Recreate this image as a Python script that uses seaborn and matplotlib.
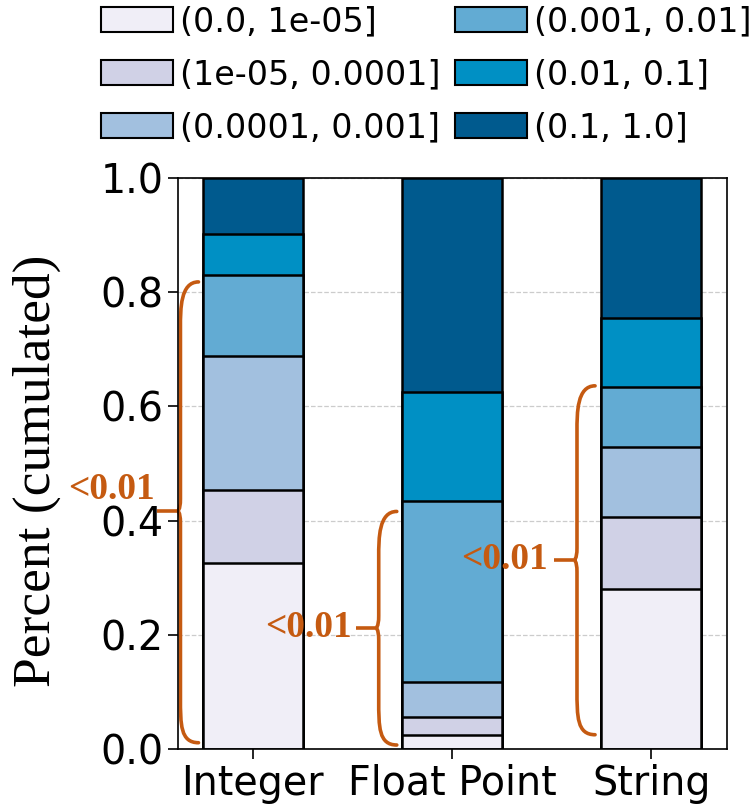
import matplotlib
matplotlib.use("Agg")
import matplotlib.pyplot as plt
import seaborn as sns
import pandas as pd
import numpy as np
from matplotlib.path import Path
from matplotlib.patches import PathPatch, Patch

sns.set_style("ticks")
plt.rcParams.update({"text.color": "black", "axes.labelcolor": "black",
                     "xtick.color": "black", "ytick.color": "black",
                     "axes.edgecolor": "black"})

categories = ["Integer", "Float Point", "String"]
bins = ["(0.0, 1e-05]", "(1e-05, 0.0001]", "(0.0001, 0.001]",
        "(0.001, 0.01]", "(0.01, 0.1]", "(0.1, 1.0]"]
# cumulative fractions (top of each bin), per category
integer_cum = [0.326, 0.454, 0.688, 0.830, 0.902, 1.0]
float_cum = [0.025, 0.056, 0.117, 0.434, 0.625, 1.0]
string_cum = [0.280, 0.406, 0.529, 0.634, 0.755, 1.0]
colors = ["#f0eef7", "#d0d1e6", "#a2c0df", "#62abd3", "#0090c4", "#005a8e"]

# brace annotations: (category index, y bottom, y top, y tip)
brace_spans = [(0, 0.011, 0.818, 0.417), (1, 0.007, 0.416, 0.212), (2, 0.025, 0.636, 0.331)]
brace_label = "<0.01"

rows = []
for cat, cum in zip(categories, [integer_cum, float_cum, string_cum]):
    for b, v in zip(bins, cum):
        rows.append({"category": cat, "bin": b, "cum": v})
df = pd.DataFrame(rows)

fig = plt.figure(figsize=(7.56, 8.06), dpi=100)
ax = fig.add_axes([178/756, 1-749/806, (727-178)/756, (749-178)/806])

for b, c in reversed(list(zip(bins, colors))):
    sub = df[df["bin"] == b]
    sns.barplot(data=sub, x="category", y="cum", order=categories, color=c,
                edgecolor="black", linewidth=1.8, width=0.5, ax=ax,
                saturation=1, errorbar=None)

ax.set_xlim(-0.375, 2.38)
ax.set_ylim(0, 1.0)
ax.set_yticks([0, 0.2, 0.4, 0.6, 0.8, 1.0])
ax.set_yticklabels(["0.0", "0.2", "0.4", "0.6", "0.8", "1.0"])
ax.tick_params(axis="both", labelsize=28.5, length=7, width=1.2, color="black",
               labelcolor="black")
ax.set_xlabel("")
ax.set_ylabel("Percent (cumulated)", family="Liberation Serif", fontsize=38.5)
ax.yaxis.set_label_coords(-0.213, 0.487)
ax.yaxis.grid(True, linestyle="--", color="#cccccc", linewidth=0.9)
ax.set_axisbelow(True)
for s in ax.spines.values():
    s.set_visible(True)
    s.set_color("black")
    s.set_linewidth(1.2)

orange = "#c55a11"
px = 1/198.5
py = 1/571.0

def brace(ax, x_tip, y0, y1, ym):
    x_body = x_tip + 3*px
    x_end = x_tip + 21*px
    r = 45*py
    m = 12*py
    verts = [(x_end, y1),
             (x_body, y1), (x_body, y1 - r*0.6), (x_body, y1 - r),
             (x_body, ym + m),
             (x_body, ym), (x_tip, ym), (x_tip, ym),
             (x_tip, ym), (x_body, ym), (x_body, ym - m),
             (x_body, y0 + r),
             (x_body, y0 + r*0.4), (x_body, y0), (x_end, y0)]
    codes = [Path.MOVETO,
             Path.CURVE4, Path.CURVE4, Path.CURVE4,
             Path.LINETO,
             Path.CURVE4, Path.CURVE4, Path.CURVE4,
             Path.CURVE4, Path.CURVE4, Path.CURVE4,
             Path.LINETO,
             Path.CURVE4, Path.CURVE4, Path.CURVE4]
    ax.add_patch(PathPatch(Path(verts, codes), fill=False, edgecolor=orange,
                           linewidth=2.6, clip_on=False, capstyle="round"))
    ax.plot([x_tip - 20*px, x_tip], [ym, ym], color=orange, linewidth=2.6,
            clip_on=False, solid_capstyle="butt")

tips = {0: -75*px, 1: 1 - 76*px, 2: 2 - 77*px}
gaps = {0: 22*px, 1: 24*px, 2: 26*px}
for idx, y0, y1, ym in brace_spans:
    xt = tips[idx]
    brace(ax, xt, y0, y1, ym)
    if idx == 0:
        ax.text(xt - gaps[idx], ym + 4*py, brace_label, color=orange, fontsize=27,
                family="Liberation Serif", fontweight="bold", ha="right", va="bottom",
                clip_on=False)
    else:
        ax.text(xt - gaps[idx], ym, brace_label, color=orange, fontsize=27,
                family="Liberation Serif", fontweight="bold", ha="right", va="center",
                clip_on=False)

handles = [Patch(facecolor=c, edgecolor="black", linewidth=1.5, label=b)
           for b, c in zip(bins, colors)]
fig.legend(handles=handles, loc="upper left", bbox_to_anchor=(98/756, 1.0 - 2/806),
           ncol=2, frameon=False, fontsize=24, handletextpad=0.2,
           columnspacing=0.45, borderaxespad=0.0, borderpad=0.1,
           handlelength=2.15, handleheight=0.75, labelspacing=0.6)

fig.savefig("out.png", dpi=100)
